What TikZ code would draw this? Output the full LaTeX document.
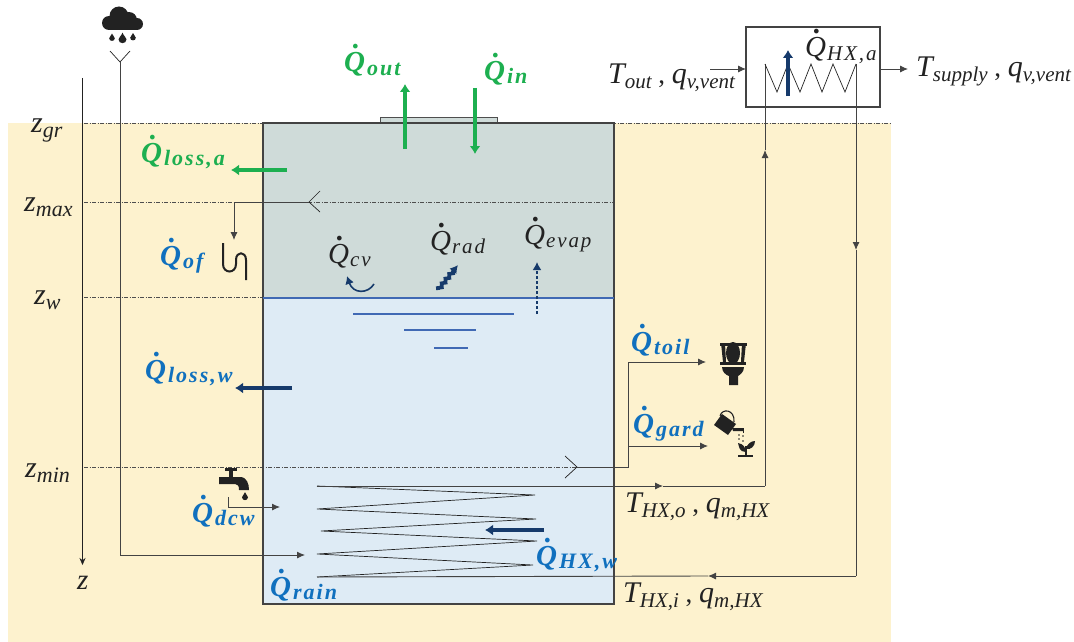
\documentclass[tikz,border=0pt]{standalone}
\usepackage{fontspec}
\setmainfont{Liberation Serif}
\usetikzlibrary{arrows.meta,decorations.pathmorphing}
\definecolor{soil}{HTML}{FDF2CE}
\definecolor{airc}{HTML}{CFDBD9}
\definecolor{waterc}{HTML}{DEEBF5}
\definecolor{lblue}{HTML}{1070BE}
\definecolor{lgreen}{HTML}{1DAF50}
\definecolor{dblue}{HTML}{163A6B}
\definecolor{wline}{HTML}{4069B4}
\definecolor{ink}{HTML}{222222}
\newcommand{\Qd}[1]{{\fontsize{29}{29}\selectfont\itshape Q\llap{\raisebox{23pt}{\bfseries .\hspace{5pt}}}}\hspace{1pt}\raisebox{-3pt}{\fontsize{21}{21}\selectfont\addfontfeature{LetterSpace=9}\itshape #1}}
\newcommand{\Qb}[1]{{\fontsize{29}{29}\selectfont\bfseries\itshape Q\llap{\raisebox{23pt}{.\hspace{5pt}}}}\hspace{2pt}\raisebox{-3pt}{\fontsize{22}{22}\selectfont\addfontfeature{LetterSpace=9}\bfseries\itshape #1}}
\newcommand{\Zl}[2]{{\fontsize{30}{30}\selectfont\itshape #1}\raisebox{-5pt}{\fontsize{22}{22}\selectfont\itshape #2}}
\newcommand{\Vr}[2]{{\fontsize{30}{30}\selectfont\itshape #1}\raisebox{-5pt}{\fontsize{21}{21}\selectfont\itshape #2}}
\newcommand{\dropshape}[3]{\fill[ink] (#1,#2-#3*1.6) .. controls (#1+#3*.35,#2-#3*.7) and (#1+#3,#2-#3*.3) .. (#1+#3,#2+#3*.1) .. controls (#1+#3,#2+#3*1.35) and (#1-#3,#2+#3*1.35) .. (#1-#3,#2+#3*.1) .. controls (#1-#3,#2-#3*.3) and (#1-#3*.35,#2-#3*.7) .. (#1,#2-#3*1.6) -- cycle;}
\tikzset{
  x=1pt,y=-1pt,
  lab/.style={anchor=base west,inner sep=0pt,text=ink},
  qblue/.style={lab,text=lblue},
  qgreen/.style={lab,text=lgreen},
  flow/.style={draw=ink!85,line width=.9pt,-{Latex[length=8pt,width=7pt]}},
  plain/.style={draw=ink!85,line width=.9pt},
  thinl/.style={draw=ink,line width=.7pt},
  level/.style={draw=ink!80,line width=.6pt,dash pattern=on 4pt off 1.5pt on 1pt off 1.5pt},
  garrow/.style={draw=lgreen,line width=3.4pt,-{Latex[length=8pt,width=11pt]}},
  barrow/.style={draw=dblue,line width=3.4pt,-{Latex[length=8pt,width=11pt]}},
  wl/.style={draw=wline,line width=1.1pt},
}
\begin{document}
\begin{tikzpicture}
\useasboundingbox (0,0) rectangle (1074,642);
\fill[soil] (8,123) rectangle (891,642);
\fill[airc] (263,123) rectangle (614,298);
\fill[airc] (380,117) rectangle (497,123);
\draw[ink!80,line width=.8pt] (380,123) -- (380,117) -- (497,117) -- (497,123);
\fill[waterc] (263,298) rectangle (614,604);
% named points
\coordinate (axs) at (82.5,78); \coordinate (axe) at (82.5,565);
\coordinate (funnel) at (120,62); \coordinate (rainc) at (120,555); \coordinate (raine) at (305,555);
\coordinate (ofs) at (309,202); \coordinate (ofc) at (234,202); \coordinate (ofe) at (234,240);
\coordinate (mins) at (577,467); \coordinate (minc) at (628,467);
\coordinate (toilc) at (628,362); \coordinate (toile) at (706,362);
\coordinate (gardc) at (628,446); \coordinate (garde) at (708,446);
\coordinate (dcws) at (228,497); \coordinate (dcwc) at (228,507); \coordinate (dcwe) at (280,507);
\coordinate (c0) at (317,486); \coordinate (c9) at (317,577);
\coordinate (oa) at (663,486); \coordinate (ob) at (765,486); \coordinate (oc) at (765,150); \coordinate (od) at (765,64);
\coordinate (ia) at (856,64); \coordinate (ib) at (856,250); \coordinate (ic) at (856,576); \coordinate (id) at (708,576);
\coordinate (tin) at (710,69); \coordinate (tout) at (908,69);
% levels
\coordinate (l1a) at (84,123); \coordinate (l1b) at (891,123);
\coordinate (l2a) at (84,202); \coordinate (l2b) at (614,202);
\coordinate (l3a) at (84,297); \coordinate (l3b) at (263,297);
\coordinate (l4a) at (84,467);
\draw[level] (l1a) -- (l1b);
\draw[level] (l2a) -- (l2b);
\draw[level] (l3a) -- (l3b);
\draw[level] (l4a) -- (mins);
% tank
\draw[ink!85,line width=1.2pt] (263,123) rectangle (614,604);
\draw[wl,line width=1.3pt] (263,298) -- (614,298);
\draw[wl] (353,314) -- (514,314);
\draw[wl] (404,330) -- (476,330);
\draw[wl] (434,348) -- (468,348);
% axis
\draw[thinl,-{Stealth[length=7pt,width=6pt]}] (axs) -- (axe);
% rain
\draw[thinl] (110,51) -- (funnel) -- (130,51);
\draw[flow] (funnel) -- (rainc) -- (raine);
% overflow
\draw[thinl] (320,191) -- (ofs) -- (320,212);
\draw[flow] (ofs) -- (ofc) -- (ofe);
% uses
\draw[thinl] (565,456) -- (577,467) -- (565,478);
\draw[plain] (mins) -- (minc) -- (toilc);
\draw[flow] (toilc) -- (toile);
\draw[flow] (gardc) -- (garde);
\draw[flow] (dcws) -- (dcwc) -- (dcwe);
% coil
\draw[thinl] (c0) -- (535,495) -- (317,509) -- (536,519) -- (321,531) -- (537,541) -- (317,554) -- (533,565) -- (c9);
\draw[flow] (c0) -- (oa);
\draw[plain] (oa) -- (ob);
\draw[flow] (ob) -- (oc);
\draw[plain] (oc) -- (od);
\draw[flow] (ia) -- (ib);
\draw[plain] (ib) -- (ic);
\draw[flow] (ic) -- (id);
\draw[plain] (id) -- (c9);
% HX box
\draw[ink!85,line width=1.1pt] (746,27) rectangle (880,107);
\draw[thinl] (od) -- (777,92) -- (788,64) -- (800,92) -- (811,64) -- (822,92) -- (833,64) -- (845,92) -- (ia);
\draw[flow] (tin) -- (746,69);
\draw[flow] (880,69) -- (tout);
% thick arrows
\draw[garrow] (405,149) -- (405,84);
\draw[garrow] (475,88) -- (475,154);
\draw[garrow] (287,170) -- (231,170);
\draw[barrow] (292,388) -- (235,388);
\draw[barrow] (544,530) -- (485,530);
\draw[barrow] (788,96) -- (788,50);
\draw[dblue,line width=2.6pt,dash pattern=on 2.6pt off 2.4pt,-{Latex[length=8pt,width=9pt]}] (537,314) -- (537,262);
\draw[dblue,line width=1.6pt,-{Latex[length=8pt,width=9pt]}] (374,284) .. controls (368,294) and (353,294) .. (347,276);
\draw[dblue,line width=3.6pt,-{Latex[length=8pt,width=9pt]},decorate,decoration={zigzag,segment length=6pt,amplitude=1.4pt,post length=8pt}] (438,290) -- (458,265);
% labels
\node[qgreen] (qout) at (344,72) {\Qb{out}};
\node[qgreen] (qin) at (484,81) {\Qb{in}};
\node[qgreen] (qla) at (141,162) {\Qb{loss,a}};
\node[qblue] (qof) at (160,265) {\Qb{of}};
\node[qblue] (qlw) at (145,379) {\Qb{loss,w}};
\node[qblue] (qtoil) at (631,351) {\Qb{toil}};
\node[qblue] (qgard) at (633,433) {\Qb{gard}};
\node[qblue] (qdcw) at (192,522) {\Qb{dcw}};
\node[qblue] (qhxw) at (536,565) {\Qb{HX,w}};
\node[qblue] (qrain) at (270,596) {\Qb{rain}};
\node[lab] (qcv) at (328,263) {\Qd{cv}};
\node[lab] (qrad) at (430,250) {\Qd{rad}};
\node[lab] (qevap) at (524,244) {\Qd{evap}};
\node[lab] (qhxa) at (805,57) {\Qd{HX,a}};
\node[lab] (zgr) at (31,132) {\Zl{z}{gr}};
\node[lab] (zmax) at (24,211) {\Zl{z}{max}};
\node[lab] (zw) at (34,304) {\Zl{z}{w}};
\node[lab] (zmin) at (25,477) {\Zl{z}{min}};
\node[lab] (zz) at (77,589) {\fontsize{29}{29}\selectfont\itshape z};
\node[lab] (tout1) at (608,84) {\Vr{T}{out}\fontsize{27}{27}\selectfont\ , \Vr{q}{v,vent}};
\node[lab] (tsup) at (916,77) {\Vr{T}{supply}\fontsize{27}{27}\selectfont\ , \Vr{q}{v,vent}};
\node[lab] (thxo) at (625,512) {\Vr{T}{HX,o}\fontsize{27}{27}\selectfont\ , \Vr{q}{m,HX}};
\node[lab] (thxi) at (623,602) {\Vr{T}{HX,i}\fontsize{27}{27}\selectfont\ , \Vr{q}{m,HX}};
% cloud
\fill[ink] (119,16) circle (9.5);
\fill[ink] (109,23) circle (7);
\fill[ink] (129,20) circle (8);
\fill[ink] (137,24) circle (6);
\fill[ink] (109,20) rectangle (137,30);
\dropshape{112}{38}{2.8}
\dropshape{122.5}{39}{4}
\dropshape{133}{37.5}{2.8}
% trap
\draw[ink,line width=2pt] (223,243) -- (223,264) .. controls (223,274) and (236,274) .. (236,264) -- (236,260) .. controls (236,251) and (246,251) .. (246,260) -- (246,280);
% faucet
\fill[ink] (225,468) rectangle (237,471);
\fill[ink] (229,469) rectangle (233,478);
\fill[ink] (219,477) -- (240,477) .. controls (247,477) and (249,484) .. (249,490) -- (239,490) .. controls (239,486) and (238,484) .. (235,484) -- (219,484) -- cycle;
\dropshape{245}{497}{3}
% toilet
\fill[ink] (733,353) ellipse (7 and 11);
\fill[ink] (720,343) rectangle (747,346);
\fill[ink] (721,343) -- (725,343) -- (726,362) -- (723,362) -- cycle;
\fill[ink] (746,343) -- (742,343) -- (741,362) -- (744,362) -- cycle;
\fill[ink] (720,362) rectangle (746,364.5);
\fill[ink] (722,367) -- (744,367) .. controls (744,372) and (740,375) .. (738,376) -- (738,385) -- (729,385) -- (729,376) .. controls (726,375) and (722,372) .. (722,367) -- cycle;
% watering can
\fill[ink] (714,425) -- (722,414) -- (736,424) -- (728,435) -- cycle;
\draw[ink,line width=1.1pt] (720,416) .. controls (722,408) and (735,409) .. (734,422);
\fill[ink] (732,428) -- (743,428) -- (743,431) -- (733,431) -- cycle;
\fill[ink] (743,428) rectangle (744,433);
\fill[ink] (739,435) circle (.9); \fill[ink] (743,436) circle (.9); \fill[ink] (739,439) circle (.9); \fill[ink] (743,441) circle (.9);
% plant
\fill[ink] (738,455) rectangle (753,456.5);
\fill[ink] (745,446) rectangle (746.5,456);
\fill[ink] (745.5,452) .. controls (739,452) and (739,446) .. (738,443) .. controls (743,444) and (746,447) .. (745.5,452) -- cycle;
\fill[ink] (746,449) .. controls (747,444) and (751,441) .. (755,441) .. controls (755,446) and (751,450) .. (746,449) -- cycle;
\end{tikzpicture}
\end{document}
